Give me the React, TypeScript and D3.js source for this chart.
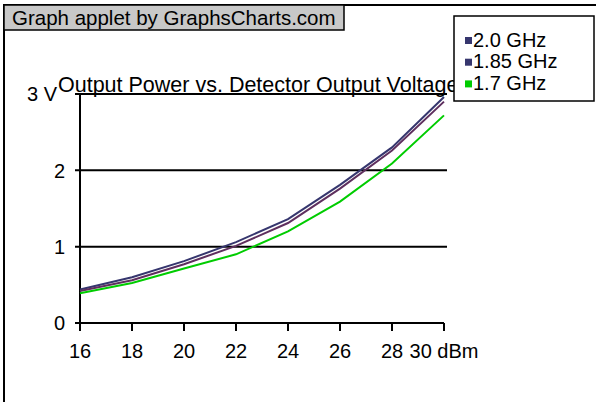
import React from "react";
import * as d3 from "d3";

const power = [16, 18, 20, 22, 24, 26, 28, 30];
const v20 = [0.44, 0.6, 0.81, 1.06, 1.36, 1.81, 2.3, 2.96];
const v185 = [0.42, 0.56, 0.77, 1.01, 1.31, 1.76, 2.26, 2.9];
const v17 = [0.39, 0.525, 0.715, 0.9, 1.2, 1.59, 2.09, 2.72];
const seriesNames = ["2.0 GHz", "1.85 GHz", "1.7 GHz"];
const yTicks = [0, 1, 2, 3];
const xTickLabels = ["16", "18", "20", "22", "24", "26", "28", "30 dBm"];

const lineColors = ["#36366e", "#5e2f5e", "#00cc00"];
const legendColors = ["#36366e", "#36366e", "#00cc00"];
const font = "'Liberation Sans', Arial, sans-serif";

export default function App() {
  const x = d3.scaleLinear().domain([16, 30]).range([80, 444]);
  const y = d3.scaleLinear().domain([0, 3]).range([323, 94]);
  const series = [v20, v185, v17];
  const line = d3
    .line<number>()
    .x((_, i) => x(power[i]))
    .y((d) => y(d));

  return (
    <svg
      width={596}
      height={402}
      style={{ position: "absolute", left: 0, top: 0, background: "#fff" }}
      fontFamily={font}
    >
      {/* outer frame */}
      <rect x={4} y={5} width={640} height={440} fill="#fff" stroke="#000" strokeWidth={2} />

      {/* title bar */}
      <rect x={4} y={5} width={340} height={25} fill="#c8c8c8" stroke="#000" strokeWidth={1.5} />
      <text x={12} y={25} fontSize={20.5} fill="#000">
        Graph applet by GraphsCharts.com
      </text>

      {/* chart title, partly hidden by the legend */}
      <text x={58} y={92} fontSize={21.5} fill="#000">
        Output Power vs. Detector Output Voltage
      </text>

      {/* gridlines + y labels */}
      {yTicks.map((t) => (
        <g key={t}>
          <line
            x1={75}
            x2={t === 0 ? 444 : 447}
            y1={y(t)}
            y2={y(t)}
            stroke="#000"
            strokeWidth={2}
          />
          <text
            x={t === 3 ? 57 : 65}
            y={y(t)}
            dy="0.36em"
            textAnchor="end"
            fontSize={20}
          >
            {t === 3 ? "3 V" : t}
          </text>
        </g>
      ))}

      {/* axes */}
      <line x1={80} x2={80} y1={93} y2={331} stroke="#000" strokeWidth={2} />
      {power.map((p, i) => (
        <g key={p}>
          <line x1={x(p)} x2={x(p)} y1={323} y2={331} stroke="#000" strokeWidth={2} />
          <text x={x(p)} y={358} textAnchor="middle" fontSize={20}>
            {xTickLabels[i]}
          </text>
        </g>
      ))}

      {/* series */}
      {series.map((s, k) => (
        <path
          key={k}
          d={line(s) || ""}
          fill="none"
          stroke={lineColors[k]}
          strokeWidth={2}
        />
      ))}

      {/* legend */}
      <rect x={454} y={16} width={140} height={85} fill="#fff" stroke="#000" strokeWidth={1.5} />
      {seriesNames.map((n, k) => (
        <g key={n}>
          <rect x={465} y={37 + k * 21.7} width={7} height={7} fill={legendColors[k]} />
          <text x={473} y={46.5 + k * 21.9} fontSize={20}>
            {n}
          </text>
        </g>
      ))}
    </svg>
  );
}
